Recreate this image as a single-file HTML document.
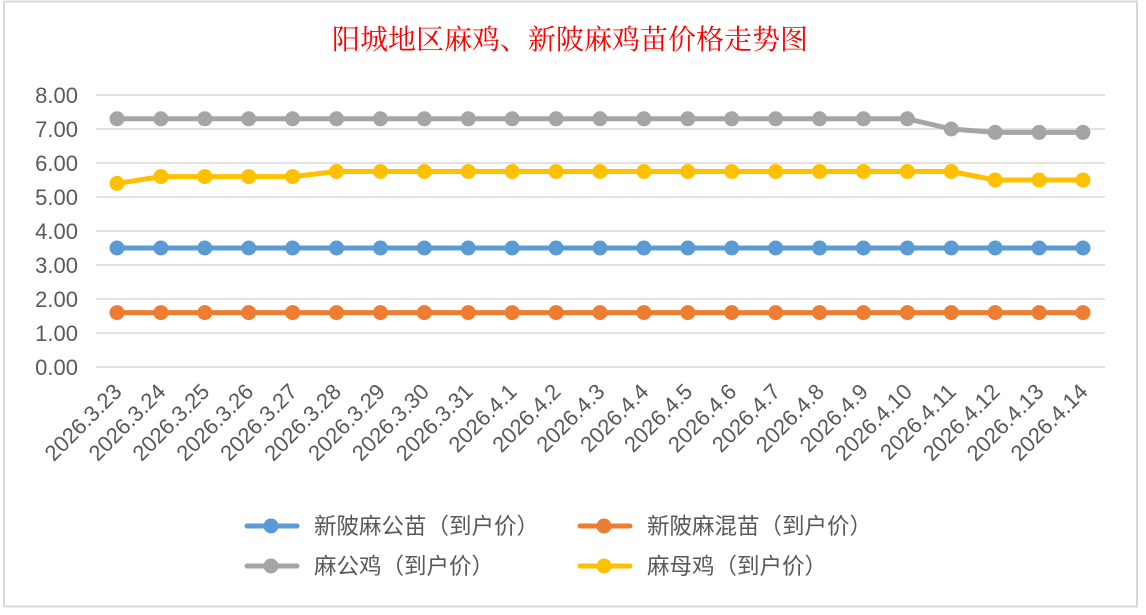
<!DOCTYPE html>
<html><head><meta charset="utf-8"><style>
html,body{margin:0;padding:0;background:#fff;}
svg{display:block;}
</style></head><body>
<svg id="c" width="1146" height="615" xmlns="http://www.w3.org/2000/svg">
<rect x="0" y="0" width="1146" height="615" fill="#fff"/>
<rect x="4" y="1.5" width="1133" height="605" fill="#fff" stroke="#d9d9d9" stroke-width="2"/>
<text x="570" y="49" text-anchor="middle" font-family="'Liberation Serif','Noto Serif CJK SC',serif" font-size="28" fill="#ff0000">阳城地区麻鸡、新陂麻鸡苗价格走势图</text>
<g id="grid"></g>
<g id="series"></g>
<g font-family="'Liberation Sans','Noto Sans CJK SC',sans-serif" font-size="22.5" fill="#595959">
<line x1="247" y1="526" x2="297" y2="526" stroke="#5b9bd5" stroke-width="5" stroke-linecap="round"/><circle cx="271" cy="526" r="7.5" fill="#5b9bd5"/>
<text x="314" y="534">新陂麻公苗（到户价）</text>
<line x1="580" y1="526" x2="630" y2="526" stroke="#ed7d31" stroke-width="5" stroke-linecap="round"/><circle cx="604" cy="526" r="7.5" fill="#ed7d31"/>
<text x="647" y="534">新陂麻混苗（到户价）</text>
<line x1="247" y1="566" x2="297" y2="566" stroke="#a5a5a5" stroke-width="5" stroke-linecap="round"/><circle cx="271" cy="566" r="7.5" fill="#a5a5a5"/>
<text x="314" y="574">麻公鸡（到户价）</text>
<line x1="580" y1="566" x2="630" y2="566" stroke="#ffc000" stroke-width="5" stroke-linecap="round"/><circle cx="604" cy="566" r="7.5" fill="#ffc000"/>
<text x="647" y="574">麻母鸡（到户价）</text>
</g>
</svg>
<script>
var NS="http://www.w3.org/2000/svg";
function el(t,a,p,txt){var e=document.createElementNS(NS,t);for(var k in a)e.setAttribute(k,a[k]);if(txt!=null)e.textContent=txt;p.appendChild(e);return e;}
var g=document.getElementById('grid'),s=document.getElementById('series');
function Y(v){return 367-v*34;}
for(var i=0;i<=8;i++){var y=Y(i);
 el('line',{x1:96,x2:1105,y1:y,y2:y,stroke:'#d9d9d9','stroke-width':1.5},g);
 el('text',{x:78,y:y+8,'text-anchor':'end','font-family':"'Liberation Sans',sans-serif",'font-size':22,fill:'#595959'},g,i.toFixed(2));}
var labels=[];for(var d=23;d<=31;d++)labels.push('2026.3.'+d);for(var d=1;d<=14;d++)labels.push('2026.4.'+d);
function X(i){return 117+i*(966/22);}
labels.forEach(function(l,i){var x=X(i)+6,y=393;
 el('text',{x:x,y:y,'text-anchor':'end',transform:'rotate(-45 '+x+' '+y+')','font-family':"'Liberation Sans',sans-serif",'font-size':22,fill:'#595959'},g,l);});
function rep(v,n){var a=[];for(var i=0;i<n;i++)a.push(v);return a;}
var data=[
 ['#5b9bd5',rep(3.5,23)],
 ['#ed7d31',rep(1.6,23)],
 ['#a5a5a5',rep(7.3,19).concat([7.0,6.9,6.9,6.9])],
 ['#ffc000',[5.4,5.6,5.6,5.6,5.6].concat(rep(5.75,15)).concat([5.5,5.5,5.5])]
];
data.forEach(function(d){var pts=d[1].map(function(v,i){return X(i)+','+Y(v);}).join(' ');
 el('polyline',{points:pts,fill:'none',stroke:d[0],'stroke-width':5,'stroke-linejoin':'round'},s);
 d[1].forEach(function(v,i){el('circle',{cx:X(i),cy:Y(v),r:7.5,fill:d[0]},s);});});
</script>
</body></html>
